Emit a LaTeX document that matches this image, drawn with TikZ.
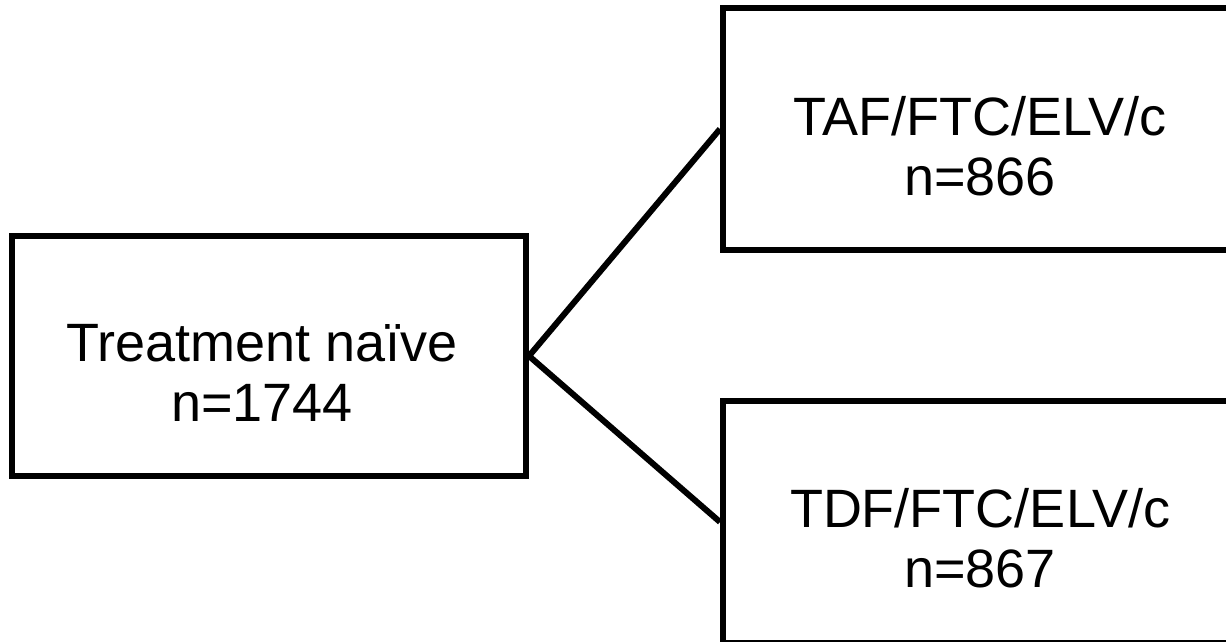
\documentclass[tikz,border=0pt]{standalone}
\usepackage{fontspec}
\setmainfont{Liberation Sans}
\begin{document}
\begin{tikzpicture}[x=0.5pt,y=-0.5pt,
  box/.style={draw=black,line width=3pt,rectangle,inner sep=0pt},
  lbl/.style={align=center,inner sep=0pt,font=\fontsize{27}{30}\selectfont},
  conn/.style={draw=black,line width=3pt}]
\useasboundingbox (0,0) rectangle (1226,642);
\node[box,minimum width=257pt,minimum height=120pt] (L) at (269,356) {};
\node[box,minimum width=257pt,minimum height=121pt] (T) at (980,129) {};
\node[box,minimum width=257pt,minimum height=120.75pt] (B) at (980,522) {};
\node[lbl] (Lt) at (262,372.5) {Treatment naïve\\n=1744};
\node[lbl] (Tt) at (980,146) {TAF/FTC/ELV/c\\n=866};
\node[lbl] (Bt) at (980,538) {TDF/FTC/ELV/c\\n=867};
\draw[conn] (L.east) -- (T.west);
\draw[conn] (L.east) -- (B.west);
\end{tikzpicture}
\end{document}
